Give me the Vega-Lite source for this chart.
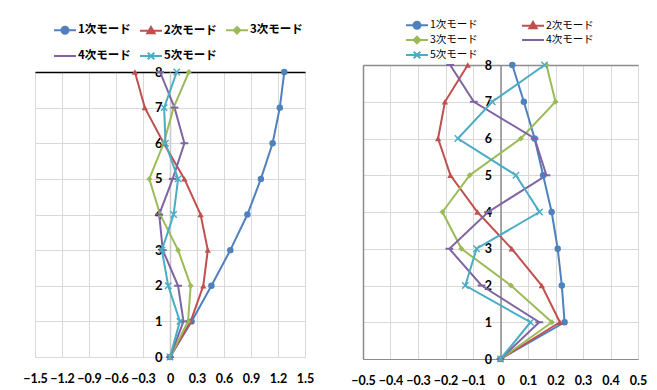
{
  "$schema": "https://vega.github.io/schema/vega-lite/v6.json",
  "background": "white",
  "padding": {"left": 22, "top": 17, "right": 5, "bottom": 0},
  "spacing": 35,
  "center": true,
  "datasets": {
    "left": [
      {"mode": "1次モード", "floor": 0, "value": 0}, {"mode": "1次モード", "floor": 1, "value": 0.24}, {"mode": "1次モード", "floor": 2, "value": 0.46}, {"mode": "1次モード", "floor": 3, "value": 0.67}, {"mode": "1次モード", "floor": 4, "value": 0.86}, {"mode": "1次モード", "floor": 5, "value": 1.01}, {"mode": "1次モード", "floor": 6, "value": 1.14}, {"mode": "1次モード", "floor": 7, "value": 1.22}, {"mode": "1次モード", "floor": 8, "value": 1.27},
      {"mode": "2次モード", "floor": 0, "value": 0}, {"mode": "2次モード", "floor": 1, "value": 0.23}, {"mode": "2次モード", "floor": 2, "value": 0.37}, {"mode": "2次モード", "floor": 3, "value": 0.42}, {"mode": "2次モード", "floor": 4, "value": 0.34}, {"mode": "2次モード", "floor": 5, "value": 0.16}, {"mode": "2次モード", "floor": 6, "value": -0.07}, {"mode": "2次モード", "floor": 7, "value": -0.28}, {"mode": "2次モード", "floor": 8, "value": -0.39},
      {"mode": "3次モード", "floor": 0, "value": 0}, {"mode": "3次モード", "floor": 1, "value": 0.2}, {"mode": "3次モード", "floor": 2, "value": 0.23}, {"mode": "3次モード", "floor": 3, "value": 0.09}, {"mode": "3次モード", "floor": 4, "value": -0.11}, {"mode": "3次モード", "floor": 5, "value": -0.23}, {"mode": "3次モード", "floor": 6, "value": -0.07}, {"mode": "3次モード", "floor": 7, "value": 0.04}, {"mode": "3次モード", "floor": 8, "value": 0.21},
      {"mode": "4次モード", "floor": 0, "value": 0}, {"mode": "4次モード", "floor": 1, "value": 0.15}, {"mode": "4次モード", "floor": 2, "value": 0.09}, {"mode": "4次モード", "floor": 3, "value": -0.08}, {"mode": "4次モード", "floor": 4, "value": -0.12}, {"mode": "4次モード", "floor": 5, "value": 0.03}, {"mode": "4次モード", "floor": 6, "value": 0.16}, {"mode": "4次モード", "floor": 7, "value": 0.05}, {"mode": "4次モード", "floor": 8, "value": -0.11},
      {"mode": "5次モード", "floor": 0, "value": 0}, {"mode": "5次モード", "floor": 1, "value": 0.11}, {"mode": "5次モード", "floor": 2, "value": -0.02}, {"mode": "5次モード", "floor": 3, "value": -0.09}, {"mode": "5次モード", "floor": 4, "value": 0.04}, {"mode": "5次モード", "floor": 5, "value": 0.09}, {"mode": "5次モード", "floor": 6, "value": -0.05}, {"mode": "5次モード", "floor": 7, "value": -0.065}, {"mode": "5次モード", "floor": 8, "value": 0.075}
    ],
    "right": [
      {"mode": "1次モード", "floor": 0, "value": 0}, {"mode": "1次モード", "floor": 1, "value": 0.233}, {"mode": "1次モード", "floor": 2, "value": 0.223}, {"mode": "1次モード", "floor": 3, "value": 0.208}, {"mode": "1次モード", "floor": 4, "value": 0.186}, {"mode": "1次モード", "floor": 5, "value": 0.155}, {"mode": "1次モード", "floor": 6, "value": 0.124}, {"mode": "1次モード", "floor": 7, "value": 0.085}, {"mode": "1次モード", "floor": 8, "value": 0.043},
      {"mode": "2次モード", "floor": 0, "value": 0}, {"mode": "2次モード", "floor": 1, "value": 0.216}, {"mode": "2次モード", "floor": 2, "value": 0.15}, {"mode": "2次モード", "floor": 3, "value": 0.041}, {"mode": "2次モード", "floor": 4, "value": -0.084}, {"mode": "2次モード", "floor": 5, "value": -0.182}, {"mode": "2次モード", "floor": 6, "value": -0.227}, {"mode": "2次モード", "floor": 7, "value": -0.202}, {"mode": "2次モード", "floor": 8, "value": -0.119},
      {"mode": "3次モード", "floor": 0, "value": 0}, {"mode": "3次モード", "floor": 1, "value": 0.187}, {"mode": "3次モード", "floor": 2, "value": 0.038}, {"mode": "3次モード", "floor": 3, "value": -0.142}, {"mode": "3次モード", "floor": 4, "value": -0.211}, {"mode": "3次モード", "floor": 5, "value": -0.112}, {"mode": "3次モード", "floor": 6, "value": 0.074}, {"mode": "3次モード", "floor": 7, "value": 0.2}, {"mode": "3次モード", "floor": 8, "value": 0.167},
      {"mode": "4次モード", "floor": 0, "value": 0}, {"mode": "4次モード", "floor": 1, "value": 0.141}, {"mode": "4次モード", "floor": 2, "value": -0.069}, {"mode": "4次モード", "floor": 3, "value": -0.186}, {"mode": "4次モード", "floor": 4, "value": -0.045}, {"mode": "4次モード", "floor": 5, "value": 0.167}, {"mode": "4次モード", "floor": 6, "value": 0.124}, {"mode": "4次モード", "floor": 7, "value": -0.097}, {"mode": "4次モード", "floor": 8, "value": -0.183},
      {"mode": "5次モード", "floor": 0, "value": 0}, {"mode": "5次モード", "floor": 1, "value": 0.109}, {"mode": "5次モード", "floor": 2, "value": -0.128}, {"mode": "5次モード", "floor": 3, "value": -0.087}, {"mode": "5次モード", "floor": 4, "value": 0.142}, {"mode": "5次モード", "floor": 5, "value": 0.056}, {"mode": "5次モード", "floor": 6, "value": -0.155}, {"mode": "5次モード", "floor": 7, "value": -0.03}, {"mode": "5次モード", "floor": 8, "value": 0.16}
    ]
  },
  "hconcat": [
    {
      "width": 270,
      "height": 285,
      "data": {"name": "left"},
      "view": {"stroke": "#bfbfbf", "strokeWidth": 1},
      "resolve": {"axis": {"x": "independent", "y": "independent"}},
      "layer": [
        {
          "mark": {"type": "line", "strokeWidth": 2},
          "encoding": {
            "x": {"field": "value", "type": "quantitative", "scale": {"domain": [-1.5, 1.5], "nice": false},
              "axis": {"orient": "bottom", "title": null, "values": [-1.5, -1.2, -0.9, -0.6, -0.3, 0, 0.3, 0.6, 0.9, 1.2, 1.5], "labelExpr": "datum.value == 0 ? '0' : format(datum.value, '.1f')", "labelOverlap": false, "labelBound": false, "labelFlush": false, "grid": true, "gridColor": "#d9d9d9", "domain": false, "ticks": false, "labelPadding": 15, "labelFontWeight": "bold", "labelFontSize": 12.5, "labelColor": "#000000", "labelFont": "Lato"}},
            "y": {"field": "floor", "type": "quantitative", "scale": {"domain": [0, 8], "nice": false},
              "axis": {"orient": "left", "title": null, "offset": -135, "values": [0, 1, 2, 3, 4, 5, 6, 7, 8], "grid": false, "domain": true, "domainColor": "#c8c8c8", "domainWidth": 1.5, "ticks": false, "labelPadding": 8, "labelFontWeight": "bold", "labelFontSize": 13, "labelColor": "#000000", "labelFont": "Lato", "labelOverlap": false, "labelFlush": false, "labelBound": false}},
            "color": {"field": "mode", "type": "nominal",
              "scale": {"domain": ["1次モード", "2次モード", "3次モード", "4次モード", "5次モード"], "range": ["#4F81BD", "#C0504D", "#9BBB59", "#8064A2", "#4BACC6"]},
              "legend": {"orient": "none", "legendX": 18, "legendY": -49, "direction": "horizontal", "columns": 3, "title": null, "symbolSize": 144, "symbolStrokeWidth": 2, "labelFont": "Noto Sans CJK JP", "labelFontWeight": "bold", "labelFontSize": 11.5, "labelColor": "#000000", "labelOffset": 11, "columnPadding": 5, "rowPadding": 10,
                "encode": {"symbols": {"update": {
                  "shape": {"signal": "['M-1,0L2.667,0M0.25,0A0.583,0.583 0 1,0 1.416,0A0.583,0.583 0 1,0 0.25,0Z','M-1,0L2.667,0M0.833,-0.62L1.45,0.45L0.216,0.45Z','M-1,0L2.667,0M0.833,-0.55L1.383,0L0.833,0.55L0.283,0Z','M-1,0L2.667,0','M-1,0L2.667,0M0.283,-0.55L1.383,0.55M0.283,0.55L1.383,-0.55'][indexof(['1次モード','2次モード','3次モード','4次モード','5次モード'], datum.value)]"},
                  "fill": {"signal": "['#4F81BD','#C0504D','#9BBB59','#8064A2','#4BACC6'][indexof(['1次モード','2次モード','3次モード','4次モード','5次モード'], datum.value)]"},
                  "stroke": {"signal": "['#4F81BD','#C0504D','#9BBB59','#8064A2','#4BACC6'][indexof(['1次モード','2次モード','3次モード','4次モード','5次モード'], datum.value)]"},
                  "strokeWidth": {"value": 2},
                  "opacity": {"value": 1}
                }}}}},
            "order": {"field": "floor", "type": "quantitative"}
          }
        },
        {
          "transform": [{"filter": "datum.mode === '1次モード'"}],
          "mark": {"type": "point", "shape": "circle", "filled": true, "color": "#4F81BD", "size": 42, "opacity": 1},
          "encoding": {
            "x": {"field": "value", "type": "quantitative", "axis": {"orient": "top", "title": null, "labels": false, "ticks": false, "grid": false, "domain": true, "domainColor": "#000000", "domainWidth": 1.5}},
            "y": {"field": "floor", "type": "quantitative", "axis": {"orient": "left", "title": null, "labels": false, "ticks": false, "domain": false, "grid": true, "gridColor": "#d9d9d9", "values": [0, 1, 2, 3, 4, 5, 6, 7, 8]}}
          }
        },
        {
          "transform": [{"filter": "datum.mode === '2次モード'"}],
          "mark": {"type": "point", "shape": "triangle-up", "filled": true, "color": "#C0504D", "size": 40, "opacity": 1},
          "encoding": {"x": {"field": "value", "type": "quantitative", "axis": null}, "y": {"field": "floor", "type": "quantitative", "axis": null}}
        },
        {
          "transform": [{"filter": "datum.mode === '3次モード'"}],
          "mark": {"type": "point", "shape": "diamond", "filled": true, "color": "#9BBB59", "size": 36, "opacity": 1},
          "encoding": {"x": {"field": "value", "type": "quantitative", "axis": null}, "y": {"field": "floor", "type": "quantitative", "axis": null}}
        },
        {
          "transform": [{"filter": "datum.mode === '4次モード'"}],
          "mark": {"type": "point", "shape": "stroke", "filled": false, "color": "#8064A2", "size": 60, "strokeWidth": 2, "opacity": 1},
          "encoding": {"x": {"field": "value", "type": "quantitative", "axis": null}, "y": {"field": "floor", "type": "quantitative", "axis": null}}
        },
        {
          "transform": [{"filter": "datum.mode === '5次モード'"}],
          "mark": {"type": "point", "shape": "M-1,-1L1,1M-1,1L1,-1", "filled": false, "color": "#4BACC6", "size": 40, "strokeWidth": 1.5, "opacity": 1},
          "encoding": {"x": {"field": "value", "type": "quantitative", "axis": null}, "y": {"field": "floor", "type": "quantitative", "axis": null}}
        }
      ]
    },
    {
      "width": 275,
      "height": 294,
      "data": {"name": "right"},
      "view": {"stroke": "#bfbfbf", "strokeWidth": 1},
      "resolve": {"axis": {"x": "independent", "y": "independent"}},
      "layer": [
        {
          "mark": {"type": "line", "strokeWidth": 2},
          "encoding": {
            "x": {"field": "value", "type": "quantitative", "scale": {"domain": [-0.5, 0.5], "nice": false},
              "axis": {"orient": "bottom", "title": " ", "titleFontSize": 5, "titlePadding": 0, "values": [-0.5, -0.4, -0.3, -0.2, -0.1, 0, 0.1, 0.2, 0.3, 0.4, 0.5], "labelExpr": "datum.value == 0 ? '0' : format(datum.value, '.1f')", "labelOverlap": false, "labelBound": false, "labelFlush": false, "grid": true, "gridColor": "#d9d9d9", "domain": true, "domainColor": "#8c8c8c", "ticks": false, "labelPadding": 15, "labelFontWeight": "bold", "labelFontSize": 12.5, "labelColor": "#000000", "labelFont": "Lato"}},
            "y": {"field": "floor", "type": "quantitative", "scale": {"domain": [0, 8], "nice": false},
              "axis": {"orient": "left", "title": null, "offset": -137.5, "values": [0, 1, 2, 3, 4, 5, 6, 7, 8], "grid": false, "domain": true, "domainColor": "#8c8c8c", "domainWidth": 1.5, "ticks": false, "labelPadding": 9, "labelFontWeight": "bold", "labelFontSize": 12.5, "labelColor": "#000000", "labelFont": "Lato", "labelOverlap": false, "labelFlush": false, "labelBound": false}},
            "color": {"field": "mode", "type": "nominal",
              "scale": {"domain": ["1次モード", "2次モード", "3次モード", "4次モード", "5次モード"], "range": ["#4F81BD", "#C0504D", "#9BBB59", "#8064A2", "#4BACC6"]},
              "legend": {"orient": "none", "legendX": 42, "legendY": -47, "direction": "horizontal", "columns": 2, "title": null, "symbolSize": 144, "symbolStrokeWidth": 2, "labelFont": "Noto Sans CJK JP", "labelFontWeight": "normal", "labelFontSize": 10.5, "labelColor": "#000000", "labelOffset": 11, "columnPadding": 40, "rowPadding": -3,
                "encode": {"symbols": {"update": {
                  "shape": {"signal": "['M-1,0L2.667,0M0.25,0A0.583,0.583 0 1,0 1.416,0A0.583,0.583 0 1,0 0.25,0Z','M-1,0L2.667,0M0.833,-0.62L1.45,0.45L0.216,0.45Z','M-1,0L2.667,0M0.833,-0.55L1.383,0L0.833,0.55L0.283,0Z','M-1,0L2.667,0','M-1,0L2.667,0M0.283,-0.55L1.383,0.55M0.283,0.55L1.383,-0.55'][indexof(['1次モード','2次モード','3次モード','4次モード','5次モード'], datum.value)]"},
                  "fill": {"signal": "['#4F81BD','#C0504D','#9BBB59','#8064A2','#4BACC6'][indexof(['1次モード','2次モード','3次モード','4次モード','5次モード'], datum.value)]"},
                  "stroke": {"signal": "['#4F81BD','#C0504D','#9BBB59','#8064A2','#4BACC6'][indexof(['1次モード','2次モード','3次モード','4次モード','5次モード'], datum.value)]"},
                  "strokeWidth": {"value": 2},
                  "opacity": {"value": 1}
                }}}}},
            "order": {"field": "floor", "type": "quantitative"}
          }
        },
        {
          "transform": [{"filter": "datum.mode === '1次モード'"}],
          "mark": {"type": "point", "shape": "circle", "filled": true, "color": "#4F81BD", "size": 42, "opacity": 1},
          "encoding": {
            "x": {"field": "value", "type": "quantitative", "axis": {"orient": "top", "title": null, "labels": false, "ticks": false, "grid": false, "domain": true, "domainColor": "#8c8c8c", "domainWidth": 1.5}},
            "y": {"field": "floor", "type": "quantitative", "axis": {"orient": "left", "title": null, "labels": false, "ticks": false, "domain": true, "domainColor": "#8c8c8c", "domainWidth": 1.5, "grid": true, "gridColor": "#d9d9d9", "values": [0, 1, 2, 3, 4, 5, 6, 7, 8]}}
          }
        },
        {
          "transform": [{"filter": "datum.mode === '2次モード'"}],
          "mark": {"type": "point", "shape": "triangle-up", "filled": true, "color": "#C0504D", "size": 40, "opacity": 1},
          "encoding": {"x": {"field": "value", "type": "quantitative", "axis": null}, "y": {"field": "floor", "type": "quantitative", "axis": null}}
        },
        {
          "transform": [{"filter": "datum.mode === '3次モード'"}],
          "mark": {"type": "point", "shape": "diamond", "filled": true, "color": "#9BBB59", "size": 36, "opacity": 1},
          "encoding": {"x": {"field": "value", "type": "quantitative", "axis": null}, "y": {"field": "floor", "type": "quantitative", "axis": null}}
        },
        {
          "transform": [{"filter": "datum.mode === '4次モード'"}],
          "mark": {"type": "point", "shape": "stroke", "filled": false, "color": "#8064A2", "size": 60, "strokeWidth": 2, "opacity": 1},
          "encoding": {"x": {"field": "value", "type": "quantitative", "axis": null}, "y": {"field": "floor", "type": "quantitative", "axis": null}}
        },
        {
          "transform": [{"filter": "datum.mode === '5次モード'"}],
          "mark": {"type": "point", "shape": "M-1,-1L1,1M-1,1L1,-1", "filled": false, "color": "#4BACC6", "size": 40, "strokeWidth": 1.5, "opacity": 1},
          "encoding": {"x": {"field": "value", "type": "quantitative", "axis": null}, "y": {"field": "floor", "type": "quantitative", "axis": null}}
        }
      ]
    }
  ],
  "resolve": {"scale": {"color": "independent"}, "legend": {"color": "independent"}}
}
